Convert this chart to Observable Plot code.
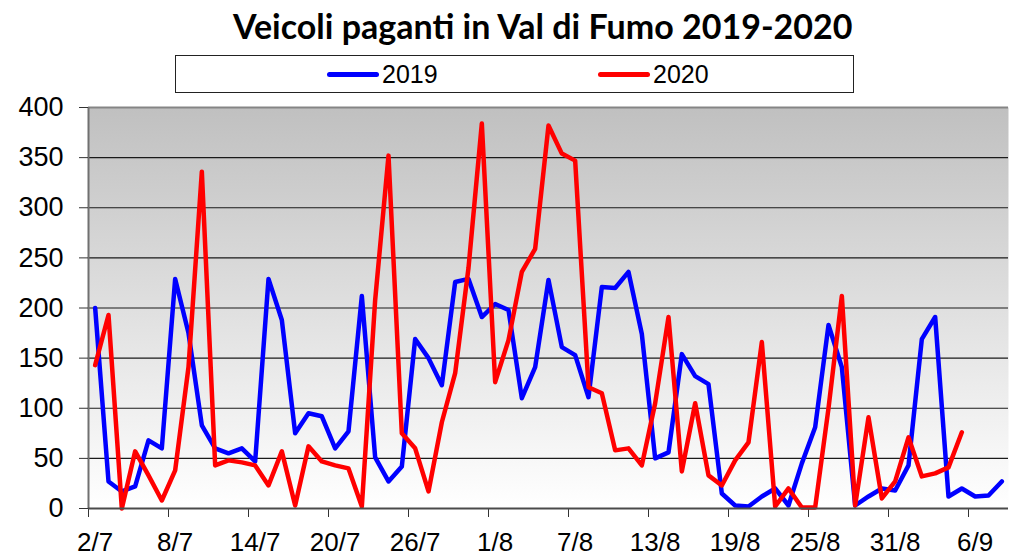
<!DOCTYPE html>
<html>
<head>
<meta charset="utf-8">
<script src="https://cdn.jsdelivr.net/npm/d3@7"></script>
<script src="https://cdn.jsdelivr.net/npm/@observablehq/plot@0.6"></script>
<style>
  html, body { margin: 0; padding: 0; background: #fff; }
  #wrap { position: relative; width: 1010px; height: 557px; overflow: hidden; }
  #title { position: absolute; left: 233px; top: 5px; font-family: Lato, "Open Sans", sans-serif; font-weight: 700; font-size: 34px; color: #000; white-space: nowrap; line-height: 42px; }
  #legend { position: absolute; left: 175px; top: 55px; width: 679px; height: 38px; border: 1px solid #222; box-sizing: border-box; background: #fff; font-family: "Liberation Sans", Arial, sans-serif; font-size: 25px; }
  .sw { position: absolute; top: 16px; width: 52px; height: 5px; border-radius: 3px; }
  .lt { position: absolute; top: 4px; line-height: 28px; color: #000; }
  #chart { position: absolute; left: 0; top: 0; }
</style>
</head>
<body>
<div id="wrap">
  <div id="chart"></div>
  <div id="title"></div>
  <div id="legend"></div>
</div>
<script>
const titleText = "Veicoli paganti in Val di Fumo 2019-2020";
const seriesNames = ["2019", "2020"];
const seriesColors = ["#0000ff", "#ff0000"];

// Category labels: tick labels every 6 days starting 2/7
const tickLabels = ["2/7","8/7","14/7","20/7","26/7","1/8","7/8","13/8","19/8","25/8","31/8","6/9"];
const nDays = 69;

const values2019 = [200,27,17,22,68,60,229,175,83,60,55,60,47,229,188,75,95,92,60,77,
  212,51,27,42,169,150,123,226,229,191,204,198,110,141,228,161,153,111,221,220,
  236,174,50,56,154,132,124,15,3,2,12,20,3,45,81,183,141,3,12,20,
  18,43,169,191,12,20,12,13,27];

const values2020 = [143,193,0,57,33,8,38,141,336,43,48,46,43,23,57,3,62,47,43,40,
  2,208,352,75,60,17,86,135,240,384,126,168,236,259,382,354,347,121,115,58,
  60,43,105,191,37,105,33,23,48,66,166,2,20,1,1,100,212,3,91,10,
  27,71,32,35,41,76];

const yTicks = [0,50,100,150,200,250,300,350,400];
const labelIdx = tickLabels.map((_, k) => k * 6);
const boundaryIdx = labelIdx.map(i => i - 0.5);

const d2019 = values2019.map((v, i) => ({i, v}));
const d2020 = values2020.map((v, i) => ({i, v}));

document.getElementById("title").textContent = titleText;

const legend = document.getElementById("legend");
const legendPos = [[151, 206], [422, 477]];
seriesNames.forEach((name, k) => {
  const sw = document.createElement("div");
  sw.className = "sw";
  sw.style.left = legendPos[k][0] + "px";
  sw.style.background = seriesColors[k];
  legend.appendChild(sw);
  const t = document.createElement("div");
  t.className = "lt";
  t.style.left = legendPos[k][1] + "px";
  t.textContent = name;
  legend.appendChild(t);
});

const chart = Plot.plot({
  width: 1010,
  height: 557,
  marginTop: 107,
  marginBottom: 49,
  marginLeft: 88,
  marginRight: 2,
  x: {domain: [-0.5, nDays - 0.5]},
  y: {domain: [0, 400]},
  style: {fontFamily: '"Liberation Sans", Arial, sans-serif', fontSize: "27px", color: "#000", background: "transparent", overflow: "visible"},
  marks: [
    Plot.frame({fill: "url(#bgGrad)", stroke: null}),
    Plot.ruleY(yTicks.slice(1, -1), {stroke: "#1a1a1a", strokeWidth: 1.2}),
    Plot.ruleY([400], {stroke: "#858585", strokeWidth: 2}),
    Plot.ruleX([-0.5], {stroke: "#707070", strokeWidth: 2}),
    Plot.axisY({ticks: yTicks, tickSize: 9, tickPadding: 16, fontSize: 27, stroke: "#333", label: null}),
    Plot.axisX({ticks: boundaryIdx, tickSize: 9, tickFormat: () => "", stroke: "#333", label: null}),
    Plot.axisX({ticks: labelIdx, tickSize: 0, tickPadding: 24, fontSize: 26, tickFormat: d => tickLabels[Math.round(d / 6)], label: null}),
    Plot.line(d2019, {x: "i", y: "v", stroke: seriesColors[0], strokeWidth: 4.5}),
    Plot.line(d2020, {x: "i", y: "v", stroke: seriesColors[1], strokeWidth: 4.5}),
    Plot.ruleY([0], {stroke: "#4a4a4a", strokeWidth: 2})
  ]
});

d3.select(chart).insert("defs", ":first-child").html(
  '<linearGradient id="bgGrad" x1="0" y1="0" x2="0" y2="1">' +
  '<stop offset="0" stop-color="#c0c0c0"/><stop offset="1" stop-color="#ffffff"/></linearGradient>'
);
document.getElementById("chart").appendChild(chart);
</script>
</body>
</html>
